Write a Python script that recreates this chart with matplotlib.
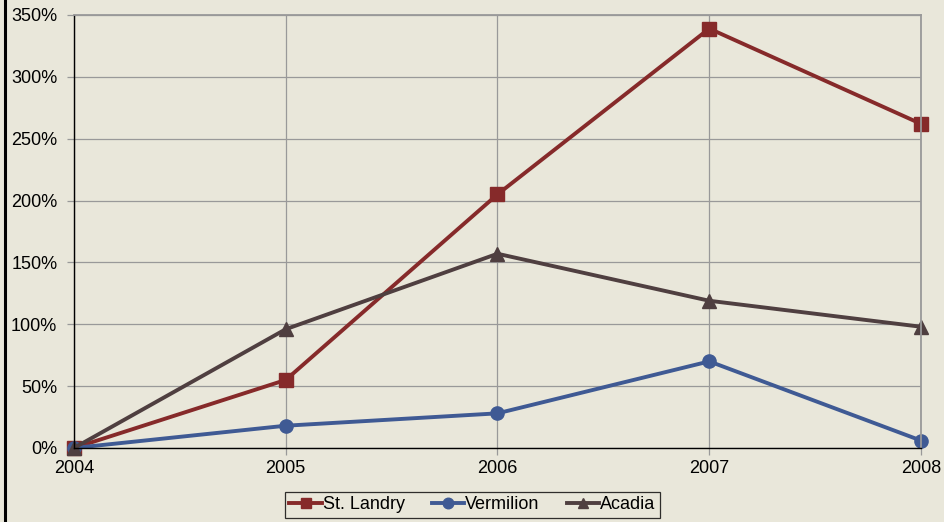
import matplotlib.pyplot as plt
from matplotlib.lines import Line2D
from matplotlib.ticker import FuncFormatter

years = [2004, 2005, 2006, 2007, 2008]
st_landry = [0, 55, 205, 339, 262]
vermilion = [0, 18, 28, 70, 6]
acadia = [0, 96, 157, 119, 98]

bg = '#E9E7DA'
plt.rcParams['font.family'] = ['Liberation Sans', 'DejaVu Sans']

fig = plt.figure(figsize=(9.45, 5.22), dpi=100, facecolor=bg)
ax = fig.add_axes([0.0783, 0.1418, 0.8963, 0.8295], facecolor=bg)

ax.plot(years, st_landry, color='#862A2A', lw=2.8, marker='s', ms=9.5, label='St. Landry')
ax.plot(years, vermilion, color='#3F5A94', lw=2.8, marker='o', ms=9.5, label='Vermilion')
ax.plot(years, acadia, color='#4F3F40', lw=2.8, marker='^', ms=9.5, label='Acadia')

ax.set_xlim(2004, 2008)
ax.set_ylim(0, 350)
ax.set_xticks(years)
ax.set_yticks(range(0, 351, 50))
ax.yaxis.set_major_formatter(FuncFormatter(lambda v, p: f'{int(v)}%'))
ax.grid(True, color='#999999', lw=0.9)
ax.set_axisbelow(True)
ax.tick_params(axis='both', labelsize=13, color='#999999', length=5, width=0.9)
ax.tick_params(axis='x', pad=4)
ax.tick_params(axis='y', pad=7)
for s in ['top', 'right']:
    ax.spines[s].set_color('#999999')
    ax.spines[s].set_linewidth(1.3)
for s in ['left', 'bottom']:
    ax.spines[s].set_color('black')
    ax.spines[s].set_linewidth(1.0)

for line in ax.get_lines():
    line.set_clip_on(False)

leg = fig.legend(loc='center', bbox_to_anchor=(0.5, 0.033), ncol=3, fontsize=13,
                 frameon=True, fancybox=False, edgecolor='black', facecolor=bg,
                 handlelength=1.8, handletextpad=0.05, columnspacing=1.5,
                 borderpad=0.25, markerscale=0.8)
leg.get_frame().set_linewidth(0.9)

fig.add_artist(Line2D([4.5 / 945, 4.5 / 945], [0, 1], color='black', lw=2.2,
                      transform=fig.transFigure))

fig.savefig('out.png', dpi=100, facecolor=bg)
